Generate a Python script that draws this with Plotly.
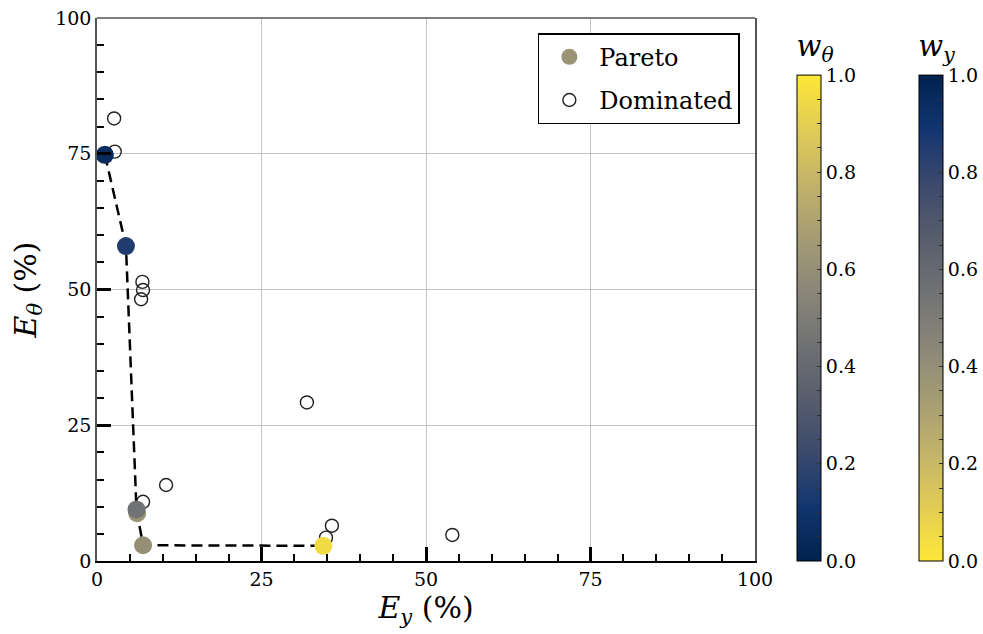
import plotly.graph_objects as go
import plotly.colors as pc

# ---- data ----
pareto_ey = [6.1, 1.2, 4.4, 6.0, 7.0, 34.4]
pareto_eth = [8.8, 74.8, 58.0, 9.5, 2.9, 2.8]
pareto_wth = [0.62, 0.05, 0.15, 0.45, 0.6, 0.95]

dom_ey = [2.6, 2.7, 6.9, 7.0, 6.7, 10.5, 7.0, 31.9, 35.7, 34.8, 54.0]
dom_eth = [81.5, 75.4, 51.4, 49.9, 48.2, 14.0, 10.9, 29.2, 6.5, 4.3, 4.8]

front_ey = [1.2, 4.4, 6.0, 7.0, 34.4]
front_eth = [74.8, 58.0, 9.5, 2.9, 2.8]

cbar_ticks = [i * 0.05 for i in range(21)]
cbar_text = [f"{v:.1f}" if abs(v * 5 - round(v * 5)) < 1e-9 else "" for v in cbar_ticks]

FONT = "DejaVu Serif"
cividis = pc.sequential.Cividis
cividis_r = pc.sequential.Cividis_r


def cbar(xpos, title):
    return dict(
        x=xpos, xanchor="left", xpad=0, y=0, yanchor="bottom", ypad=0, len=0.975,
        thickness=24, outlinecolor="black", outlinewidth=1,
        tickvals=cbar_ticks, ticktext=cbar_text, ticks="inside",
        ticklen=4, tickcolor="#333",
        tickfont=dict(family=FONT, size=19, color="black"),
        title=dict(text=title, side="top", font=dict(family=FONT, size=29, color="black")),
    )


fig = go.Figure()

fig.add_trace(go.Scatter(
    x=dom_ey, y=dom_eth, mode="markers", name="Dominated",
    marker=dict(symbol="circle-open", size=13, color="#222", line=dict(width=1.4)),
    legendrank=2, legendgroup="dom",
))

fig.add_trace(go.Scatter(
    x=front_ey, y=front_eth, mode="lines", showlegend=False,
    line=dict(color="black", width=2.5, dash="11px,6px"),
))

fig.add_trace(go.Scatter(
    x=pareto_ey, y=pareto_eth, mode="markers", name="Pareto",
    legendrank=1, legendgroup="par",
    marker=dict(size=18, color=pareto_wth, colorscale=cividis, cmin=0, cmax=1,
                line=dict(width=0), showscale=True,
                colorbar=cbar(1.064, "<i>w</i><sub><i>θ</i></sub>")),
))

# second colorbar (w_y = 1 - w_theta)
fig.add_trace(go.Scatter(
    x=[None], y=[None], mode="markers", showlegend=False, hoverinfo="skip",
    marker=dict(color=[0, 1], colorscale=cividis_r, cmin=0, cmax=1, showscale=True,
                colorbar=cbar(1.249, "<i>w</i><sub><i>y</i></sub>")),
))

axis_common = dict(
    range=[0, 100], dtick=25, tick0=0,
    ticks="inside", ticklen=14, tickwidth=3, tickcolor="black",
    showgrid=True, gridcolor="#c4c4c4", gridwidth=1,
    zeroline=False, showline=True, linewidth=1.5,
    tickfont=dict(family=FONT, size=19, color="black"),
    minor=dict(dtick=5, ticks="inside", ticklen=7, tickwidth=1.5, tickcolor="black", showgrid=False),
)

fig.update_xaxes(**axis_common, linecolor="black",
                 title=dict(text="<i>E</i><sub><i>y</i></sub> (%)",
                            font=dict(family=FONT, size=30, color="black"), standoff=4))
fig.update_yaxes(**axis_common, linecolor="#555", mirror=True,
                 title=dict(text="<i>E</i><sub><i>θ</i></sub> (%)",
                            font=dict(family=FONT, size=30, color="black"), standoff=10))

fig.add_shape(type="line", xref="paper", yref="paper", x0=0, x1=1, y0=1, y1=1,
              line=dict(color="#555", width=1.5))

fig.update_layout(
    width=983, height=634,
    margin=dict(l=97, r=228, t=18, b=73, autoexpand=False),
    paper_bgcolor="white", plot_bgcolor="white",
    font=dict(family=FONT, color="black"),
    legend=dict(x=0.977, xanchor="right", y=0.972, yanchor="top",
                bgcolor="white", bordercolor="black", borderwidth=1.5,
                font=dict(family=FONT, size=24, color="black"),
                itemsizing="trace", itemwidth=50, tracegroupgap=9,
                traceorder="grouped"),
)

fig.write_html("out.html")
